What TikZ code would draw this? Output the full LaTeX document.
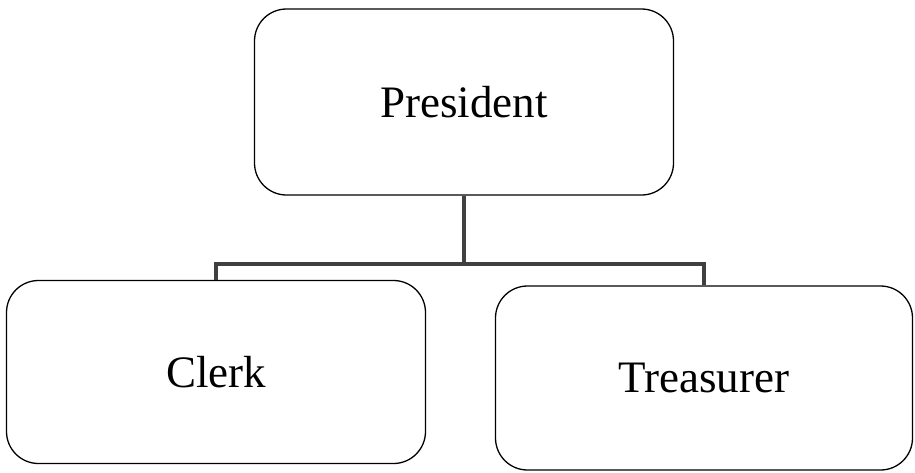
\documentclass[tikz,border=0pt]{standalone}
\usepackage{fontspec}
\setmainfont{Liberation Serif}
\tikzset{
  office/.style={draw, line width=1.3pt, rounded corners=32pt, inner sep=0pt,
    font=\fontsize{45}{54}\selectfont},
  link/.style={draw=black!75, line width=4.5pt}
}
\begin{document}
\begin{tikzpicture}[x=1pt,y=-1pt]
\useasboundingbox (0,0) rectangle (915,472);
\node[office, minimum width=419pt, minimum height=186pt] (pres) at (464,102) {President};
\node[office, minimum width=419pt, minimum height=183pt] (clerk) at (216,372) {Clerk};
\node[office, minimum width=417pt, minimum height=184pt] (treas) at (704,378) {Treasurer};
\coordinate (split) at (460,264);
\draw[link] (pres.south) -- (pres.south |- split);
\draw[link] (clerk.north) -- (clerk.north |- split) -- (treas.north |- split) -- (treas.north);
\end{tikzpicture}
\end{document}
